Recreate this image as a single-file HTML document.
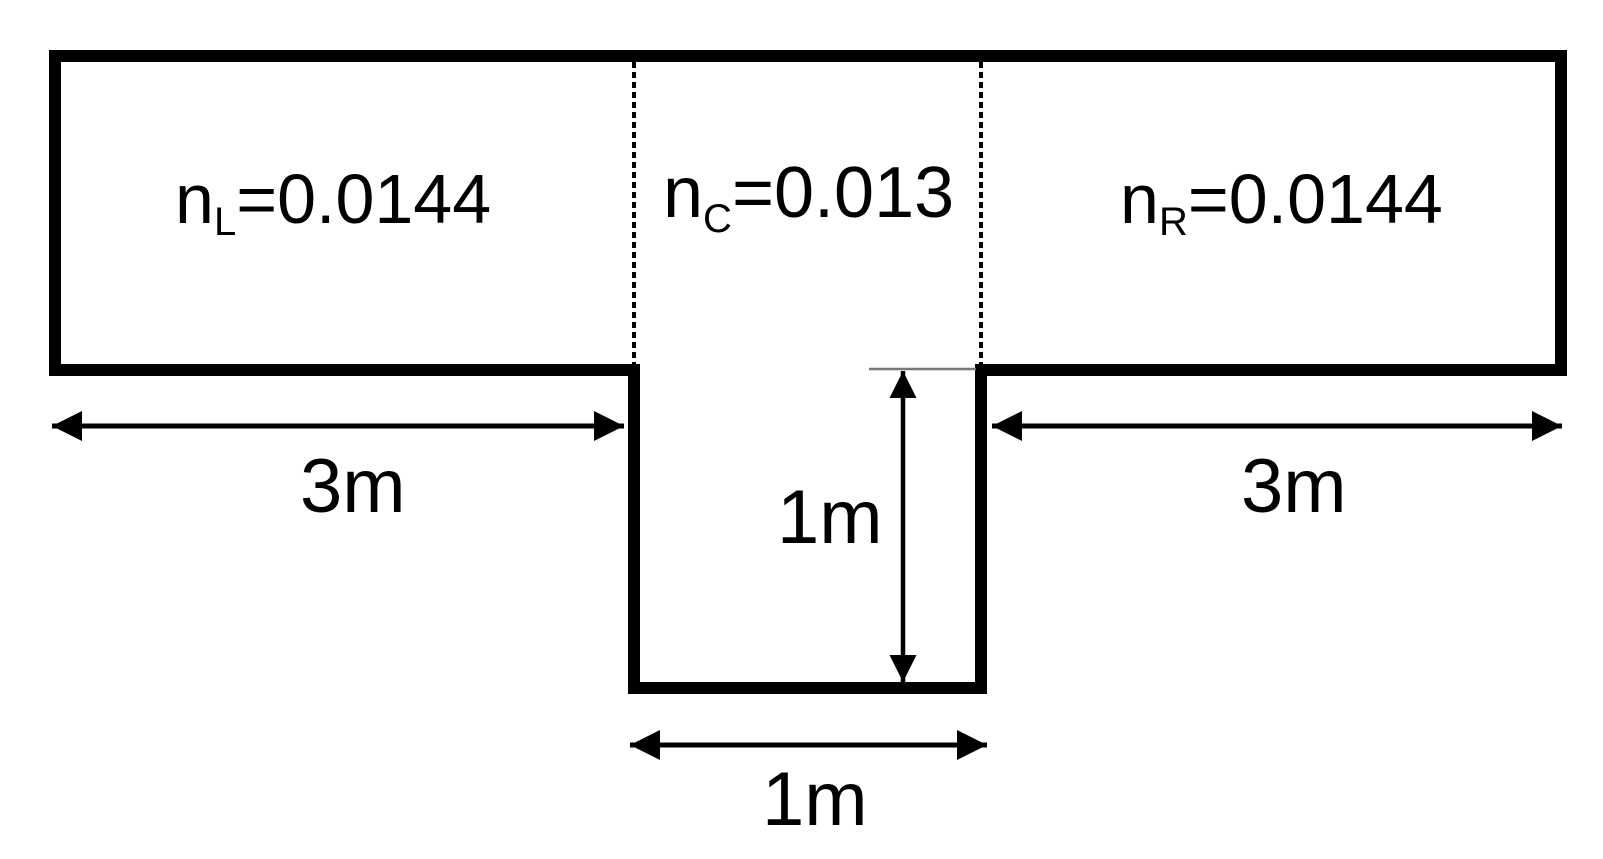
<!DOCTYPE html>
<html><head><meta charset="utf-8"><style>
html,body{margin:0;padding:0;background:#fff;}
svg{display:block;}
text{font-family:"Liberation Sans",Arial,sans-serif;fill:#000;}
</style></head><body>
<svg width="1603" height="859" viewBox="0 0 1603 859" xmlns="http://www.w3.org/2000/svg">
<defs>
<marker id="ah" viewBox="0 0 10 10" refX="10" refY="5" markerWidth="6" markerHeight="6" markerUnits="strokeWidth" orient="auto-start-reverse">
<path d="M0,0 L10,5 L0,10 z" fill="#000"/>
</marker>
</defs>
<!-- outline -->
<path d="M55,56 H1561 V370 H981 V688 H634 V370 H55 Z" fill="none" stroke="#000" stroke-width="12" stroke-linejoin="miter"/>
<!-- dotted lines -->
<line x1="634" y1="62" x2="634" y2="364" stroke="#000" stroke-width="4" stroke-dasharray="6,4"/>
<line x1="981" y1="62" x2="981" y2="364" stroke="#000" stroke-width="4" stroke-dasharray="6,4"/>
<!-- labels -->
<text x="175" y="223" font-size="70"><tspan>n</tspan><tspan font-size="40" dy="12">L</tspan><tspan dy="-12">=0.0144</tspan></text>
<text x="663" y="217" font-size="72"><tspan>n</tspan><tspan font-size="40" dy="15">C</tspan><tspan dy="-15">=0.013</tspan></text>
<text x="1120" y="223" font-size="70"><tspan>n</tspan><tspan font-size="40" dy="12">R</tspan><tspan dy="-12">=0.0144</tspan></text>
<!-- horizontal dims -->
<line x1="52" y1="426" x2="624" y2="426" stroke="#000" stroke-width="5" marker-start="url(#ah)" marker-end="url(#ah)"/>
<line x1="992" y1="426" x2="1562" y2="426" stroke="#000" stroke-width="5" marker-start="url(#ah)" marker-end="url(#ah)"/>
<line x1="630" y1="745" x2="987" y2="745" stroke="#000" stroke-width="5" marker-start="url(#ah)" marker-end="url(#ah)"/>
<!-- vertical dim -->
<line x1="869" y1="369" x2="976" y2="369" stroke="#777" stroke-width="2.5"/>
<line x1="903" y1="371" x2="903" y2="682" stroke="#000" stroke-width="4.5" marker-start="url(#ah)" marker-end="url(#ah)"/>
<text x="300" y="512" font-size="76">3m</text>
<text x="1241" y="512" font-size="76">3m</text>
<text x="777" y="543" font-size="76">1m</text>
<text x="762" y="825" font-size="76">1m</text>
</svg>
</body></html>
